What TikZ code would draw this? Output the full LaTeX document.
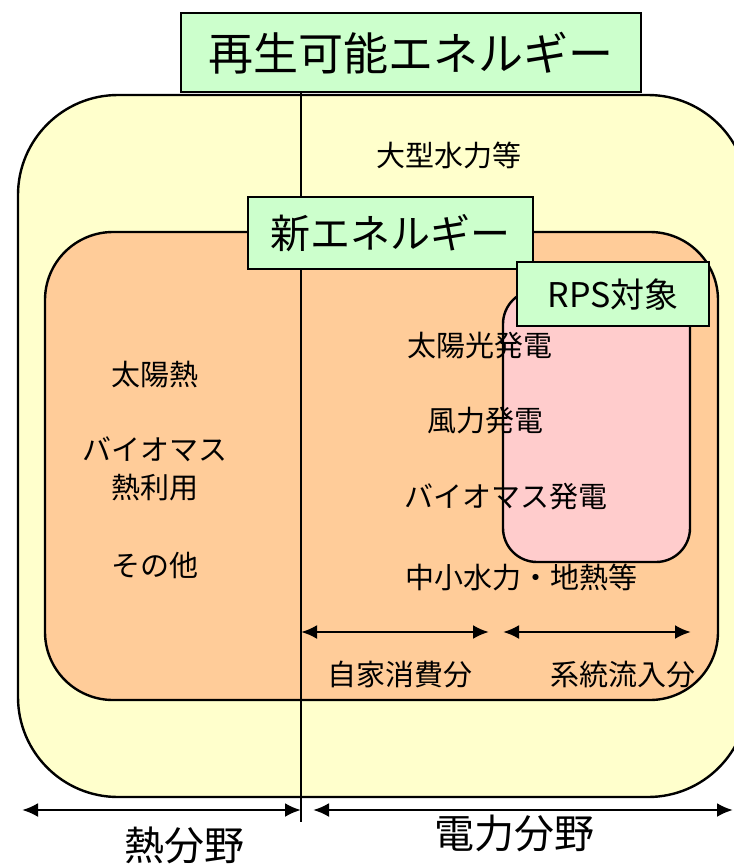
\documentclass[tikz,border=0pt]{standalone}
\usepackage{fontspec}
\setmainfont{Noto Sans CJK JP}
\usetikzlibrary{arrows.meta}
\definecolor{yel}{HTML}{FFFFCC}
\definecolor{ora}{HTML}{FFCC99}
\definecolor{pnk}{HTML}{FFCCCC}
\definecolor{grn}{HTML}{CCFFCC}
\tikzset{
  x=1pt,y=-1pt,
  area/.style={draw=black,line width=2.4pt},
  titlebox/.style={draw=black,line width=2.4pt,fill=grn,inner sep=0pt,anchor=north west},
  lbl/.style={font=\fontsize{29}{32}\selectfont,inner sep=0pt},
  biglbl/.style={font=\fontsize{40}{44}\selectfont,inner sep=0pt},
  dimarrow/.style={line width=2.6pt,{Latex[length=16pt,width=14pt]}-{Latex[length=16pt,width=14pt]}}
}
\begin{document}
\begin{tikzpicture}
\useasboundingbox (0,0) rectangle (733,864);
\fill[white] (0,0) rectangle (733,864);
% outer yellow area
\draw[area,fill=yel,rounded corners=100pt] (18,95) rectangle (748,797);
% orange area
\draw[area,fill=ora,rounded corners=68pt] (45,232) rectangle (718,700);
% pink RPS area
\draw[area,fill=pnk,rounded corners=34pt] (503,290) rectangle (690,562);
% divider line
\coordinate (ltop) at (301,91);
\coordinate (lbot) at (301,822);
\draw[line width=2.4pt] (ltop) -- (lbot);
% boxes
\node[titlebox,minimum width=460pt,minimum height=79pt] (re) at (180,12) {};
\node[font=\fontsize{45}{48}\selectfont,inner sep=0pt] (ret) at (re.center) {再生可能エネルギー};
\node[titlebox,minimum width=285pt,minimum height=72pt] (ne) at (247,196) {};
\node[font=\fontsize{40}{44}\selectfont,inner sep=0pt] (net) at (ne.center) {新エネルギー};
\node[titlebox,minimum width=192pt,minimum height=64pt] (rps) at (516,261) {};
\node[font=\fontsize{34}{38}\selectfont,inner sep=0pt] (rpst) at (rps.center) {RPS対象};
% texts
\node[lbl] (t1) at (449,155) {大型水力等};
\node[lbl] (t2) at (155,375) {太陽熱};
\node[lbl] (t3) at (155,449) {バイオマス};
\node[lbl] (t4) at (155,488) {熱利用};
\node[lbl] (t5) at (155,565) {その他};
\node[lbl] (t6) at (480,346) {太陽光発電};
\node[lbl] (t7) at (485,421) {風力発電};
\node[lbl] (t8) at (506,497) {バイオマス発電};
\node[lbl] (t9) at (521,577) {中小水力・地熱等};
\node[lbl] (t10) at (400,675) {自家消費分};
\node[lbl] (t11) at (623,675) {系統流入分};
\node[biglbl] (t12) at (184,845) {熱分野};
\node[biglbl] (t13) at (514,833) {電力分野};
% dimension arrows
\coordinate (a1) at (301,632); \coordinate (a2) at (489,632);
\coordinate (a3) at (503,632); \coordinate (a4) at (691,632);
\coordinate (b1) at (22,810); \coordinate (b2) at (301,810);
\coordinate (b3) at (313,810); \coordinate (b4) at (733,810);
\draw[dimarrow] (a1) -- (a2);
\draw[dimarrow] (a3) -- (a4);
\draw[dimarrow] (b1) -- (b2);
\draw[dimarrow] (b3) -- (b4);
\end{tikzpicture}
\end{document}
